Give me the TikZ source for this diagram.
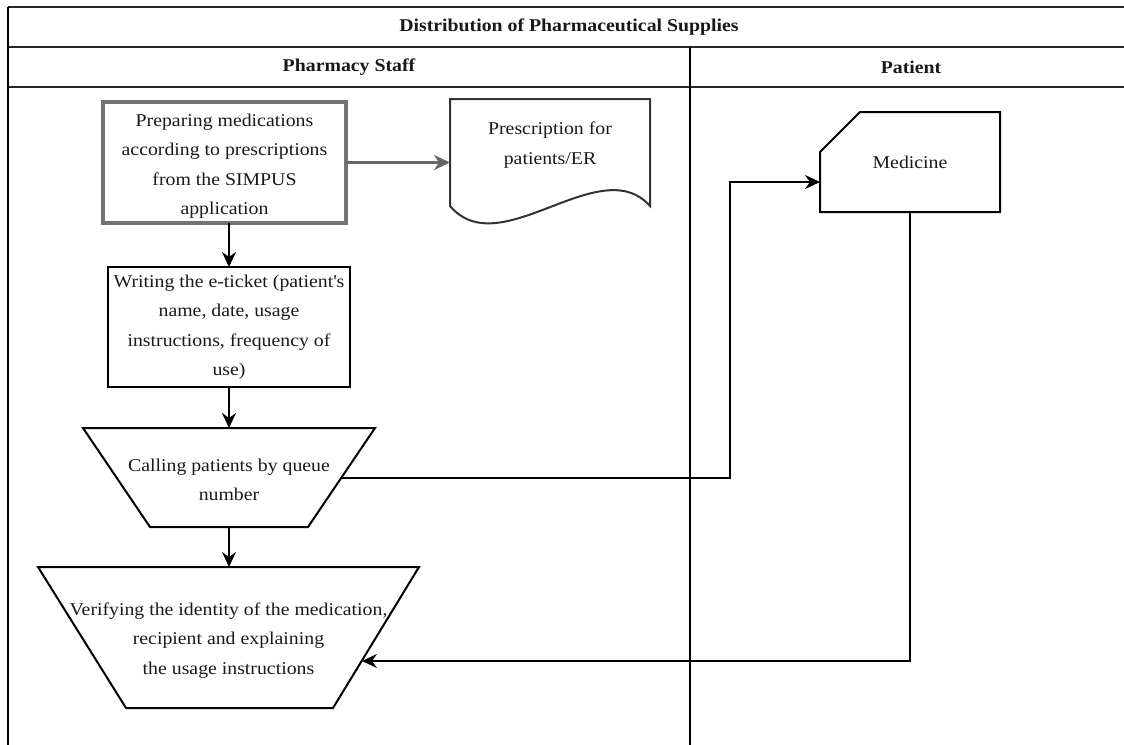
\documentclass[tikz,border=0pt]{standalone}
\usepackage{fontspec}
\setmainfont{Liberation Serif}[FakeStretch=1.1]
\usetikzlibrary{arrows.meta,calc}

\begin{document}
\begin{tikzpicture}[x=1pt,y=-1pt,
  every node/.style={font=\fontsize{18}{29.5}\selectfont, text=black!90,
    align=center, inner sep=0pt, outer sep=0pt},
  lane/.style={draw=black!85, line width=2pt},
  divider/.style={draw=black, line width=1.6pt},
  heading/.style={font=\fontsize{18}{22}\selectfont\bfseries},
  flow/.style={draw=black, line width=2pt, -{Stealth[length=15pt,width=14pt,inset=5pt]}},
  boldflow/.style={draw=black!60, line width=3.2pt, -{Stealth[length=16pt,width=15pt,inset=5pt]}},
  outline/.style={draw=black, line width=2pt},
  prepbox/.style={draw=black!55, line width=3.4pt, minimum width=243pt, minimum height=121pt},
  ticketbox/.style={draw=black, line width=2pt, minimum width=242pt, minimum height=120pt}
]
\useasboundingbox (0,0) rectangle (1124,744);
\clip (0,0) rectangle (1124,744);

% swimlane frame
\draw[lane] (8,7) -- (1132,7);
\draw[lane] (8,47) -- (1132,47);
\draw[lane] (8,87) -- (1132,87);
\draw[divider] (8,7) -- (8,760);
\draw[divider] (690,47) -- (690,760);
\draw[divider] (1132,7) -- (1132,760);

\node[heading] (title) at (569,27) {Distribution of Pharmaceutical Supplies};
\node[heading] (staff) at (349,67) {Pharmacy Staff};
\node[heading] (patient) at (911,67) {Patient};

% pharmacy staff lane
\node[prepbox] (prep) at (224.5,162.5)
  {\rule{0pt}{20pt}Preparing medications\\according to prescriptions\\from the SIMPUS\\application};

\node[minimum width=200pt, minimum height=92pt] (doc) at (550,145)
  {Prescription for\\patients/ER};
\draw[outline, draw=black!80]
  (doc.north west) -- (doc.north east) -- ($(doc.south east)+(0,15)$)
  .. controls ($(doc.south east)+(-50,-41)$) and ($(doc.south west)+(50,74)$)
  .. ($(doc.south west)+(0,15)$) -- cycle;

\node[ticketbox] (ticket) at (229,327)
  {Writing the e-ticket (patient\textquotesingle s\\name, date, usage\\instructions, frequency of\\use)};

\node[minimum width=292pt, minimum height=99pt] (call) at (229,477.5)
  {\rule{0pt}{17pt}Calling patients by queue\\number};
\draw[outline] (call.north west) -- (call.north east)
  -- ($(call.south east)+(-67,0)$) -- ($(call.south west)+(67,0)$) -- cycle;

\node[minimum width=381pt, minimum height=141pt] (verify) at (228.5,637.5)
  {\rule{0pt}{18pt}Verifying the identity of the medication,\\recipient and explaining\\the usage instructions};
\draw[outline] (verify.north west) -- (verify.north east)
  -- ($(verify.south east)+(-86,0)$) -- ($(verify.south west)+(88,0)$) -- cycle;

% patient lane
\node[minimum width=180pt, minimum height=100pt] (med) at (910,162) {Medicine};
\draw[outline] (med.south west) -- ($(med.north west)+(0,40)$)
  -- ($(med.north west)+(40,0)$) -- (med.north east) -- (med.south east) -- cycle;

% connectors
\coordinate (hand) at (730,477.5);
\draw[boldflow] (prep.east) -- (prep.east -| doc.west);
\draw[flow] (prep.south -| ticket.north) -- (ticket.north);
\draw[flow] (ticket.south) -- (call.north);
\draw[flow] (call.south) -- (call.south |- verify.north);
\draw[flow] ($(call.east)+(-33.5,0)$) -- (hand) |- ($(med.west)+(0,20)$);
\draw[flow] (med.south) |- ($(verify.east)+(-57,23.5)$);
\end{tikzpicture}
\end{document}
